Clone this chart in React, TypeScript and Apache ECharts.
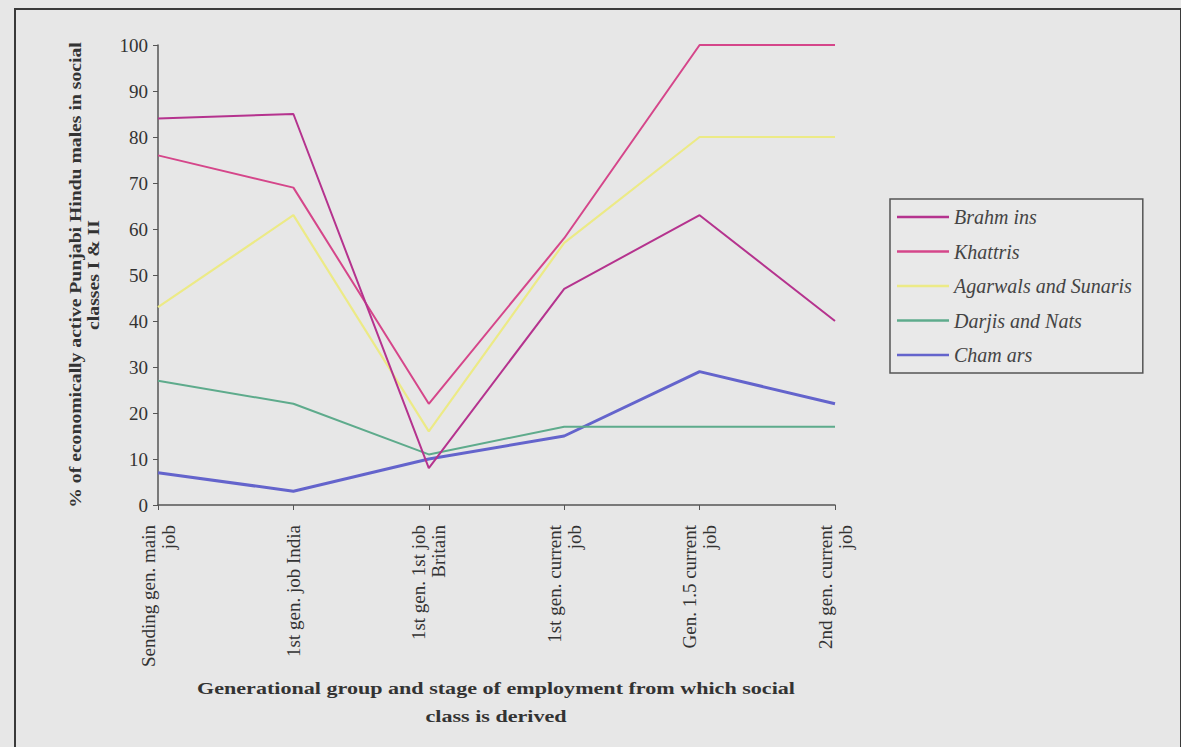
import React, { useEffect, useRef } from "react";
import * as echarts from "echarts";

const categories = [
  "Sending gen. main\njob",
  "1st gen. job India",
  "1st gen. 1st job\nBritain",
  "1st gen. current\njob",
  "Gen. 1.5 current\njob",
  "2nd gen. current\njob",
];

const brahmins = [84, 85, 8, 47, 63, 40];
const khattris = [76, 69, 22, 58, 100, 100];
const agarwals = [43, 63, 16, 57, 80, 80];
const darjis = [27, 22, 11, 17, 17, 17];
const chamars = [7, 3, 10, 15, 29, 22];

const seriesNames = [
  "Brahm ins",
  "Khattris",
  "Agarwals and Sunaris",
  "Darjis and Nats",
  "Cham ars",
];

const yTitle = "% of economically active Punjabi Hindu males in social\nclasses I & II";
const xTitle = "Generational group and stage of employment from which social\nclass is derived";

const SERIF = "'Liberation Serif', 'Times New Roman', serif";

export default function App() {
  const ref = useRef<HTMLDivElement>(null);

  useEffect(() => {
    if (!ref.current) return;
    const chart = echarts.init(ref.current, undefined, { renderer: "svg" });
    const colors = ["#b5338e", "#d5468a", "#ecea86", "#5eab8c", "#6464cc"];
    const widths = [2, 2, 2.2, 2, 3];
    const data = [brahmins, khattris, agarwals, darjis, chamars];
    chart.setOption({
      animation: false,
      backgroundColor: "#e7e7e7",
      grid: { left: 158, right: 346, top: 45, bottom: 242 },
      legend: {
        orient: "vertical",
        left: 890,
        top: 199,
        padding: [8, 11, 8, 7],
        itemGap: 14.5,
        itemWidth: 52,
        itemHeight: 2.5,
        icon: "rect",
        borderColor: "#555",
        borderWidth: 1.5,
        backgroundColor: "#e9e9e9",
        textStyle: {
          fontFamily: SERIF,
          fontStyle: "italic",
          fontSize: 20,
          lineHeight: 20,
          color: "#444",
        },
        data: seriesNames,
      },
      xAxis: {
        type: "category",
        data: categories,
        boundaryGap: false,
        axisLine: { lineStyle: { color: "#555", width: 1.5 } },
        axisTick: { show: true, length: 5, lineStyle: { color: "#555" } },
        axisLabel: {
          rotate: 90,
          interval: 0,
          margin: 20,
          fontFamily: SERIF,
          fontSize: 19,
          lineHeight: 20,
          color: "#333",
        },
      },
      yAxis: {
        type: "value",
        min: 0,
        max: 100,
        interval: 10,
        splitLine: { show: false },
        axisLine: { show: true, lineStyle: { color: "#555", width: 1.5 } },
        axisTick: { show: true, length: 5, lineStyle: { color: "#555" } },
        axisLabel: {
          margin: 10,
          fontFamily: SERIF,
          fontSize: 19,
          color: "#333",
        },
      },
      series: seriesNames.map((name, i) => ({
        name,
        type: "line",
        data: data[i],
        showSymbol: false,
        symbol: "none",
        color: colors[i],
        lineStyle: { color: colors[i], width: widths[i] },
        z: 10 - i,
      })),
      graphic: [
        {
          type: "rect",
          shape: { x: 15, y: 9, width: 1166, height: 800 },
          style: { fill: "none", stroke: "#3a3a3a", lineWidth: 2 },
          silent: true,
        },
        {
          type: "text",
          x: 496,
          y: 702,
          scaleX: 1.3,
          style: {
            text: xTitle,
            fontFamily: SERIF,
            fontWeight: "bold",
            fontSize: 17,
            lineHeight: 28,
            textAlign: "center",
            textVerticalAlign: "middle",
            fill: "#333",
          },
        },
        {
          type: "text",
          x: 85,
          y: 275,
          rotation: Math.PI / 2,
          scaleX: 1.23,
          style: {
            text: yTitle,
            fontFamily: SERIF,
            fontWeight: "bold",
            fontSize: 16,
            lineHeight: 18,
            textAlign: "center",
            textVerticalAlign: "middle",
            fill: "#333",
          },
        },
      ],
    });
    return () => chart.dispose();
  }, []);

  return (
    <div
      ref={ref}
      style={{ position: "fixed", left: 0, top: 0, width: 1181, height: 747, background: "#e7e7e7" }}
    />
  );
}
